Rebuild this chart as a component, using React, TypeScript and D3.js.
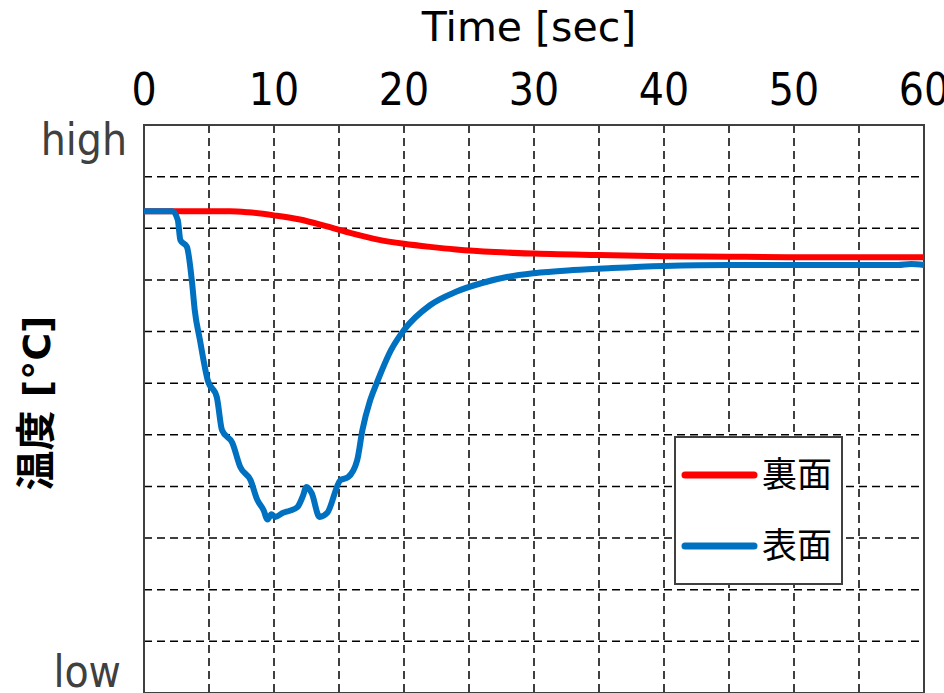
import React, { useEffect, useRef } from 'react'
import * as d3 from 'd3'

// time axis ticks (sec)
const timeTicks = [0, 10, 20, 30, 40, 50, 60]

// 裏面 (back surface) – relative temperature, 0 = low, 110 = high
const backTime = [0, 4, 6.6, 8, 10, 12, 14, 16, 18, 20, 22, 24, 27, 30, 35, 40, 45, 50, 55, 60]
const backTemp = [93.3, 93.3, 93.3, 93.1, 92.5, 91.7, 90.4, 89.0, 87.8, 87.0, 86.4, 85.9, 85.4, 85.1, 84.8, 84.6, 84.5, 84.4, 84.4, 84.4]

// 表面 (front surface)
const frontTime = [0, 2.2, 2.6, 2.8, 3.3, 3.7, 3.9, 4.3, 4.9, 5.6, 6.0, 6.8, 7.4, 8.2, 8.7, 9.2, 9.5, 9.8, 10.1, 10.7, 11.2, 11.8, 12.2, 12.5, 12.9, 13.5, 14.1, 15.1, 15.7, 16.4, 16.8, 17.4, 17.9, 19, 20, 22, 24, 26, 28, 30, 33, 36, 40, 45, 50, 55, 58, 59, 60]
const frontTemp = [93.3, 93.3, 91.6, 87.7, 86.4, 79.4, 74.2, 68.4, 60.6, 57.3, 50.9, 48.4, 43.8, 41.2, 37.5, 35.4, 33.6, 34.6, 34.1, 34.9, 35.3, 36.0, 38.0, 39.9, 38.7, 34.1, 34.9, 41.2, 41.8, 45.1, 50.9, 56.7, 60.0, 66.4, 70.3, 75.1, 77.7, 79.4, 80.6, 81.3, 81.9, 82.3, 82.7, 82.9, 82.9, 82.9, 82.9, 83.1, 82.9]

const seriesNames = ['裏面', '表面']
const seriesColors = ['#ff0000', '#0070c0']

export default function App() {
  const ref = useRef<SVGSVGElement>(null)

  useEffect(() => {
    const height = 693
    const margin = { top: 125, right: 20, bottom: 0, left: 144 }
    const svg = d3.select(ref.current)
    svg.selectAll('*').remove()

    const x = d3.scaleLinear().domain([0, 60]).range([margin.left, 924])
    const y = d3.scaleLinear().domain([0, 110]).range([height - margin.bottom, margin.top])

    const font = '"DejaVu Sans Condensed", "DejaVu Sans", sans-serif'

    // grid
    const grid = svg.append('g')
      .attr('stroke', '#000')
      .attr('stroke-width', 1.5)
      .attr('stroke-dasharray', '8,5')
    grid.selectAll('line.v')
      .data(d3.range(5, 60, 5))
      .join('line')
      .attr('class', 'v')
      .attr('x1', d => x(d)).attr('x2', d => x(d))
      .attr('y1', y(110)).attr('y2', y(0))
    grid.selectAll('line.h')
      .data(d3.range(10, 110, 10))
      .join('line')
      .attr('class', 'h')
      .attr('x1', x(0)).attr('x2', x(60))
      .attr('y1', d => y(d)).attr('y2', d => y(d))

    // border
    svg.append('rect')
      .attr('x', x(0)).attr('y', y(110))
      .attr('width', x(60) - x(0)).attr('height', y(0) - y(110))
      .attr('fill', 'none')
      .attr('stroke', '#404040')
      .attr('stroke-width', 2)

    // top axis labels
    svg.append('g')
      .selectAll('text')
      .data(timeTicks)
      .join('text')
      .attr('x', d => x(d))
      .attr('y', 105)
      .attr('text-anchor', 'middle')
      .attr('font-family', font)
      .attr('font-size', 44)
      .attr('fill', '#000')
      .text(d => d)

    svg.append('text')
      .attr('x', 529).attr('y', 41)
      .attr('text-anchor', 'middle')
      .attr('font-family', '"DejaVu Sans", sans-serif')
      .attr('font-size', 41)
      .text('Time [sec]')

    // high / low
    svg.append('text')
      .attr('x', 127).attr('y', y(110) + 30)
      .attr('text-anchor', 'end')
      .attr('font-family', font)
      .attr('font-size', 44)
      .attr('fill', '#404040')
      .text('high')
    svg.append('text')
      .attr('x', 121).attr('y', y(0) - 6)
      .attr('text-anchor', 'end')
      .attr('font-family', font)
      .attr('font-size', 44)
      .attr('fill', '#404040')
      .text('low')

    // y label
    const yl = svg.append('text')
      .attr('transform', `translate(50,${403}) rotate(-90)`)
      .attr('text-anchor', 'middle')
      .attr('font-weight', 'bold')
    yl.append('tspan')
      .attr('font-family', '"Noto Sans CJK JP", sans-serif')
      .attr('font-size', 40)
      .text('温度')
    yl.append('tspan')
      .attr('font-family', '"DejaVu Sans", sans-serif')
      .attr('font-size', 38)
      .text(' [°C]')

    const line = d3.line<[number, number]>()
      .x(d => x(d[0]))
      .y(d => y(d[1]))
      .curve(d3.curveMonotoneX)

    const back = backTime.map((t, i) => [t, backTemp[i]] as [number, number])
    const front = frontTime.map((t, i) => [t, frontTemp[i]] as [number, number])

    svg.append('path')
      .datum(back)
      .attr('d', line)
      .attr('fill', 'none')
      .attr('stroke', seriesColors[0])
      .attr('stroke-width', 6)
    svg.append('path')
      .datum(front)
      .attr('d', line)
      .attr('fill', 'none')
      .attr('stroke', seriesColors[1])
      .attr('stroke-width', 6)

    // legend
    const lg = svg.append('g').attr('transform', 'translate(675,437)')
    lg.append('rect')
      .attr('width', 167).attr('height', 147)
      .attr('fill', '#fff')
      .attr('stroke', '#404040')
      .attr('stroke-width', 2)
    seriesNames.forEach((name, i) => {
      const cy = 38 + i * 71
      lg.append('line')
        .attr('x1', 10).attr('x2', 79)
        .attr('y1', cy).attr('y2', cy)
        .attr('stroke', seriesColors[i])
        .attr('stroke-width', 7)
        .attr('stroke-linecap', 'round')
      lg.append('text')
        .attr('x', 87).attr('y', cy + 12)
        .attr('font-family', '"Noto Sans CJK JP", sans-serif')
        .attr('font-size', 35)
        .text(name)
    })
  }, [])

  return (
    <svg ref={ref} width={944} height={693}
      style={{ position: 'absolute', left: 0, top: 0, background: '#fff' }} />
  )
}
